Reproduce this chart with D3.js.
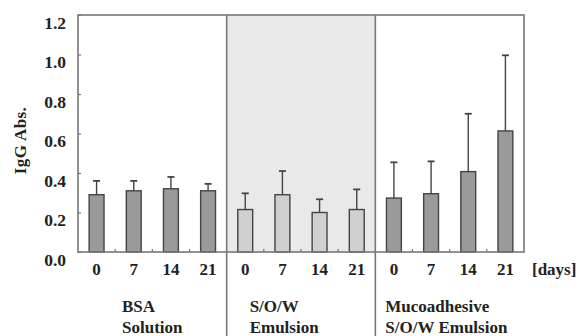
<!DOCTYPE html>
<html>
<head>
<meta charset="utf-8">
<script src="https://cdn.jsdelivr.net/npm/d3@7"></script>
<style>
  body { margin: 0; background: #fff; }
  text { font-family: "Liberation Serif", "Times New Roman", serif; fill: #222; font-weight: bold; }
</style>
</head>
<body>
<div id="graf"></div>
<script>
// datos
const grupos = ["BSA", "SOW", "Muco"]
const gruposLabel = [["BSA", "Solution"], ["S/O/W", "Emulsion"], ["Mucoadhesive", "S/O/W Emulsion"]]
const dias = ["0", "7", "14", "21"]
const bsaMedia = [0.29, 0.31, 0.32, 0.31]
const bsaError = [0.36, 0.36, 0.38, 0.345]
const sowMedia = [0.215, 0.29, 0.20, 0.215]
const sowError = [0.297, 0.41, 0.267, 0.317]
const mucoMedia = [0.273, 0.295, 0.407, 0.613]
const mucoError = [0.454, 0.459, 0.70, 0.996]
const yTicks = [0.0, 0.2, 0.4, 0.6, 0.8, 1.0, 1.2]

const medias = [bsaMedia, sowMedia, mucoMedia]
const errores = [bsaError, sowError, mucoError]
const data = []
grupos.forEach((g, i) => dias.forEach((d, j) => {
  data.push({ grupo: g, dia: d, key: g + "-" + d, value: medias[i][j], top: errores[i][j] })
}))

const anchoTotal = 579
const altoTotal = 336
const margins = { left: 78, top: 15, right: 55, bottom: 84 }
const ancho = anchoTotal - margins.left - margins.right
const alto = altoTotal - margins.top - margins.bottom

const svg = d3.select("#graf").append("svg")
  .attr("width", anchoTotal)
  .attr("height", altoTotal)

const g = svg.append("g")
  .attr("transform", `translate(${margins.left}, ${margins.top})`)

const x = d3.scaleBand().domain(data.map((d) => d.key)).range([0, ancho]).paddingInner(0.6).paddingOuter(0.3)
const xg = d3.scaleBand().domain(grupos).range([0, ancho])
const y = d3.scaleLinear().domain([0, 1.2]).range([alto, 0])

// fondo gris del grupo central
g.append("rect")
  .attr("x", xg("SOW"))
  .attr("y", 0)
  .attr("width", xg.bandwidth())
  .attr("height", alto)
  .attr("fill", "#e9e9e9")

// barras de error
const err = g.selectAll(".err").data(data).enter().append("g")
err.append("line")
  .attr("x1", (d) => x(d.key) + x.bandwidth() / 2)
  .attr("x2", (d) => x(d.key) + x.bandwidth() / 2)
  .attr("y1", (d) => y(d.value))
  .attr("y2", (d) => y(d.top))
  .attr("stroke", "#444")
  .attr("stroke-width", 1.4)
err.append("line")
  .attr("x1", (d) => x(d.key) + x.bandwidth() / 2 - 3.5)
  .attr("x2", (d) => x(d.key) + x.bandwidth() / 2 + 3.5)
  .attr("y1", (d) => y(d.top))
  .attr("y2", (d) => y(d.top))
  .attr("stroke", "#444")
  .attr("stroke-width", 1.8)

// barras
g.selectAll(".bar").data(data).enter().append("rect")
  .attr("x", (d) => x(d.key))
  .attr("y", (d) => y(d.value))
  .attr("width", x.bandwidth())
  .attr("height", (d) => alto - y(d.value))
  .attr("fill", (d) => d.grupo == "SOW" ? "#d0d0d0" : "#9a9a9a")
  .attr("stroke", "#444")
  .attr("stroke-width", 1.4)

// marco
const gris = "#777"
g.append("rect")
  .attr("width", ancho).attr("height", alto)
  .attr("fill", "none").attr("stroke", gris).attr("stroke-width", 1.6)

// separadores entre grupos (se alargan hasta abajo)
g.selectAll(".sep").data(grupos.slice(1)).enter().append("line")
  .attr("x1", (d) => xg(d)).attr("x2", (d) => xg(d))
  .attr("y1", 0).attr("y2", altoTotal)
  .attr("stroke", gris).attr("stroke-width", 1.6)

// marcas pequeñas en el eje x entre barras
const pasos = data.map((d, i) => i).filter((i) => i > 0 && i % 4 != 0)
g.selectAll(".tx").data(pasos).enter().append("line")
  .attr("x1", (i) => i * ancho / data.length).attr("x2", (i) => i * ancho / data.length)
  .attr("y1", alto).attr("y2", alto - 3)
  .attr("stroke", gris).attr("stroke-width", 1.2)

// eje y
const yAxis = d3.axisLeft(y).tickValues(yTicks).tickFormat(d3.format(".1f")).tickSize(-3).tickPadding(12)
const ejeY = g.append("g").call(yAxis)
ejeY.select(".domain").remove()
ejeY.selectAll("line").attr("stroke", gris).attr("stroke-width", 1.2)
ejeY.selectAll("text")
  .attr("dy", "0.75em")
  .style("font-family", "'Liberation Serif', serif")
  .style("font-size", "17.5px")
  .style("font-weight", "bold")
  .attr("fill", "#222")

// etiquetas de días
g.selectAll(".dia").data(data).enter().append("text")
  .attr("x", (d) => x(d.key) + x.bandwidth() / 2)
  .attr("y", alto + 23)
  .attr("text-anchor", "middle")
  .style("font-size", "17px")
  .text((d) => d.dia)

g.append("text")
  .attr("x", ancho + 8)
  .attr("y", alto + 23)
  .style("font-size", "17px")
  .text("[days]")

// nombres de grupos
const offsets = [44, 23, 10]
gruposLabel.forEach((lineas, i) => {
  lineas.forEach((t, k) => {
    g.append("text")
      .attr("x", xg(grupos[i]) + offsets[i])
      .attr("y", alto + 60 + k * 21)
      .style("font-size", "17px")
      .text(t)
  })
})

// título eje y
g.append("text")
  .attr("transform", `translate(-52, ${alto / 2 + 7}) rotate(-90)`)
  .attr("text-anchor", "middle")
  .style("font-size", "17px")
  .style("letter-spacing", "0.4px")
  .text("IgG Abs.")
</script>
</body>
</html>
